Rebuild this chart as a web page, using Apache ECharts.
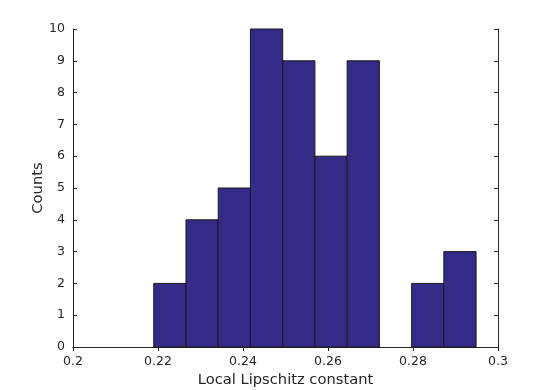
<!DOCTYPE html>
<html>
<head>
<meta charset="utf-8">
<script src="https://cdn.jsdelivr.net/npm/echarts@6/dist/echarts.min.js"></script>
<style>
  html, body { margin: 0; padding: 0; background: #fff; }
  #chart { width: 550px; height: 390px; }
</style>
</head>
<body>
<div id="chart"></div>
<script>
// bin edges and counts
var binStart = 0.2190;
var binWidth = 0.007584;
var counts = [2, 4, 5, 10, 9, 6, 9, 0, 2, 3];

var bins = counts.map(function (c, i) {
  return [binStart + i * binWidth, binStart + (i + 1) * binWidth, c];
});

var chartDom = document.getElementById('chart');
var myChart = echarts.init(chartDom);
var fontFam = 'DejaVu Sans';

var axisBase = {
  axisLine: { show: true, lineStyle: { color: '#262626', width: 1 } },
  axisTick: { show: true, inside: true, length: 4, lineStyle: { color: '#262626' } },
  splitLine: { show: false }
};

var option = {
  animation: false,
  grid: { left: 73, right: 52, top: 29, bottom: 43, containLabel: false, outerBoundsMode: 'none' },
  xAxis: [
    Object.assign({
      type: 'value', min: 0.2, max: 0.3, interval: 0.02,
      name: 'Local Lipschitz constant', nameLocation: 'middle', nameGap: 26,
      nameMoveOverlap: false,
      nameTextStyle: { fontFamily: fontFam, fontSize: 14.7, color: '#262626' },
      axisLabel: { fontFamily: fontFam, fontSize: 12.5, color: '#262626', margin: 8,
        formatter: function (v) { return String(+v.toFixed(2)); } }
    }, axisBase),
    Object.assign({
      type: 'value', position: 'top', min: 0.2, max: 0.3, interval: 0.02,
      axisLabel: { show: false }
    }, axisBase)
  ],
  yAxis: [
    Object.assign({
      type: 'value', min: 0, max: 10, interval: 1,
      name: 'Counts', nameLocation: 'middle', nameGap: 27,
      nameMoveOverlap: false,
      nameTextStyle: { fontFamily: fontFam, fontSize: 14.7, color: '#262626' },
      axisLabel: { fontFamily: fontFam, fontSize: 12.5, color: '#262626', margin: 8 }
    }, axisBase),
    Object.assign({
      type: 'value', position: 'right', min: 0, max: 10, interval: 1,
      axisLabel: { show: false }
    }, axisBase)
  ],
  series: [{
    type: 'custom',
    xAxisIndex: 0,
    yAxisIndex: 0,
    data: bins,
    renderItem: function (params, api) {
      if (api.value(2) === 0) return null;
      var p0 = api.coord([api.value(0), api.value(2)]);
      var p1 = api.coord([api.value(1), 0]);
      return {
        type: 'rect',
        shape: { x: p0[0], y: p0[1], width: p1[0] - p0[0], height: p1[1] - p0[1] },
        style: { fill: '#352a87', stroke: '#1a1a1a', lineWidth: 1 }
      };
    }
  }]
};

myChart.setOption(option);
</script>
</body>
</html>
